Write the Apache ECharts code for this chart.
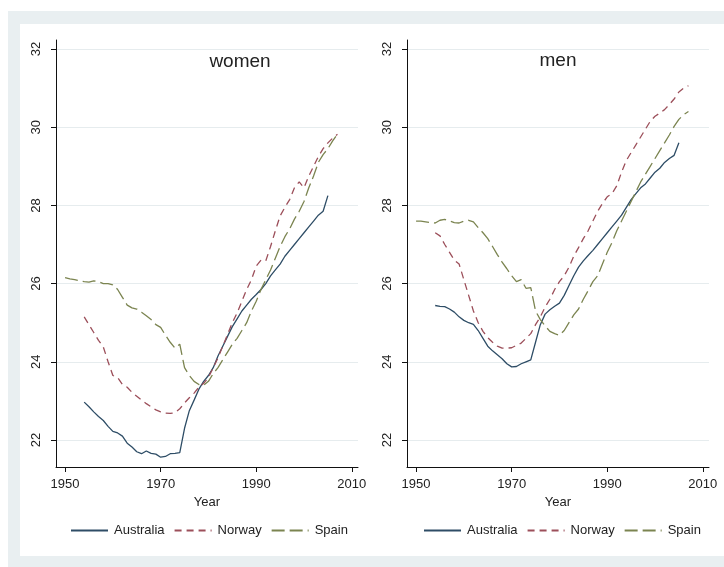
<!DOCTYPE html>
<html>
<head>
<meta charset="utf-8">
<script src="https://cdn.jsdelivr.net/npm/echarts@6/dist/echarts.min.js"></script>
<style>
html,body{margin:0;padding:0;background:#fff;}
#chart{width:724px;height:567px;}
</style>
</head>
<body>
<div id="chart"></div>
<script>
const years = [1950,1951,1952,1953,1954,1955,1956,1957,1958,1959,
  1960,1961,1962,1963,1964,1965,1966,1967,1968,1969,
  1970,1971,1972,1973,1974,1975,1976,1977,1978,1979,
  1980,1981,1982,1983,1984,1985,1986,1987,1988,1989,
  1990,1991,1992,1993,1994,1995,1996,1997,1998,1999,
  2000,2001,2002,2003,2004,2005,2006,2007];

const womenAustralia = [null,null,null,null,22.97,22.85,22.72,22.6,22.5,22.35,
  22.22,22.18,22.1,21.92,21.82,21.7,21.65,21.72,21.66,21.64,
  21.56,21.58,21.65,21.66,21.68,22.3,22.75,23.02,23.3,23.5,
  23.65,23.85,24.15,24.4,24.65,24.9,25.1,25.3,25.45,25.6,
  25.72,25.85,26.0,26.2,26.35,26.5,26.7,26.85,27.0,27.15,
  27.3,27.45,27.6,27.75,27.85,28.25,null,null];
const womenNorway = [null,null,null,null,25.15,24.95,24.75,24.55,24.38,24.0,
  23.65,23.6,23.42,23.35,23.22,23.12,23.02,22.93,22.85,22.77,
  22.72,22.69,22.68,22.7,22.8,22.95,23.08,23.2,23.35,23.45,
  23.6,23.85,24.1,24.4,24.7,25.0,25.25,25.55,25.85,26.1,
  26.45,26.6,26.58,26.95,27.35,27.73,27.95,28.15,28.45,28.6,
  28.45,28.75,29.0,29.25,29.45,29.6,29.72,29.82];
const womenSpain = [26.15,26.12,26.1,26.07,26.05,26.04,26.07,26.05,26.0,26.0,
  25.97,25.85,25.65,25.45,25.38,25.35,25.27,25.18,25.08,24.95,
  24.88,24.68,24.5,24.35,24.45,23.85,23.65,23.5,23.42,23.4,
  23.5,23.7,23.85,24.05,24.25,24.45,24.6,24.8,25.0,25.3,
  25.55,25.85,26.1,26.35,26.65,26.95,27.2,27.4,27.65,27.85,
  28.1,28.45,28.75,29.1,29.3,29.45,29.65,29.82];

const menAustralia = [null,null,null,null,25.44,25.42,25.41,25.35,25.27,25.15,
  25.06,25.0,24.96,24.8,24.6,24.4,24.28,24.18,24.08,23.95,
  23.87,23.88,23.95,24.0,24.05,24.5,24.95,25.22,25.33,25.42,
  25.5,25.7,25.95,26.2,26.42,26.58,26.72,26.85,27.0,27.15,
  27.3,27.45,27.6,27.75,27.95,28.15,28.3,28.45,28.55,28.7,
  28.85,28.95,29.1,29.2,29.28,29.6,null,null];
const menNorway = [null,null,null,null,27.3,27.22,27.0,26.8,26.6,26.5,
  26.1,25.7,25.3,25.0,24.78,24.62,24.5,24.4,24.35,24.35,
  24.36,24.42,24.48,24.6,24.72,24.95,25.15,25.4,25.6,25.85,
  26.05,26.2,26.42,26.7,26.92,27.15,27.35,27.6,27.85,28.05,
  28.22,28.3,28.5,28.85,29.15,29.35,29.55,29.75,29.95,30.15,
  30.28,30.36,30.45,30.58,30.72,30.9,31.0,31.06];
const menSpain = [27.6,27.6,27.58,27.56,27.55,27.62,27.64,27.6,27.56,27.55,
  27.6,27.62,27.58,27.43,27.3,27.15,26.95,26.74,26.55,26.38,
  26.2,26.05,26.1,25.88,25.9,25.3,25.08,24.92,24.78,24.72,
  24.68,24.8,25.0,25.2,25.35,25.6,25.82,26.05,26.2,26.5,
  26.8,27.05,27.35,27.6,27.85,28.1,28.35,28.6,28.8,29.0,
  29.2,29.4,29.6,29.8,30.02,30.2,30.32,30.4];

const countries = ['Australia','Norway','Spain'];
const panelTitles = ['women','men'];
const xTicks = [1950,1970,1990,2010];
const yTicks = [22,24,26,28,30,32];

const colors = {Australia:'#2e4d66', Norway:'#9c4f5a', Spain:'#7b8450'};
const dashes = {Australia:'solid', Norway:[7,5], Spain:[13,5]};

function pairs(vals){
  const out=[];
  for(let i=0;i<years.length;i++){ if(vals[i]!==null) out.push([years[i], vals[i]]); }
  return out;
}

const panels = [
  {Australia:womenAustralia, Norway:womenNorway, Spain:womenSpain},
  {Australia:menAustralia, Norway:menNorway, Spain:menSpain}
];

const FONT = 'Liberation Sans, Arial, sans-serif';
const gridLefts = [56, 407];

const grids = gridLefts.map(l => ({left:l, top:40, width:302, height:427}));
const xAxes = gridLefts.map((l,i) => ({
  type:'value', gridIndex:i, min:1948.1, max:2011.3,
  axisLine:{show:true, onZero:false, lineStyle:{color:'#111', width:1}},
  axisTick:{show:true, customValues:xTicks, length:5, lineStyle:{color:'#111'}},
  axisLabel:{customValues:xTicks, fontSize:13, color:'#222', margin:11, fontFamily:FONT,
    formatter: v => String(v)},
  splitLine:{show:false},
  name:'Year', nameLocation:'middle', nameGap:20,
  nameTextStyle:{fontSize:13, color:'#222', fontFamily:FONT}
}));
const yAxes = gridLefts.map((l,i) => ({
  type:'value', gridIndex:i, min:21.31, max:32.23,
  axisLine:{show:true, lineStyle:{color:'#111', width:1}},
  axisTick:{show:true, customValues:yTicks, length:5, lineStyle:{color:'#111'}},
  axisLabel:{customValues:yTicks, rotate:90, fontSize:13, color:'#222', margin:13, fontFamily:FONT,
    formatter: v => String(v)},
  splitLine:{show:true, lineStyle:{color:'#e6ecee', width:1}}
}));

const series = [];
panels.forEach((p,i) => {
  countries.forEach(c => {
    series.push({
      type:'line', name:c, xAxisIndex:i, yAxisIndex:i,
      data:pairs(p[c]), symbol:'none', showSymbol:false, smooth:false,
      lineStyle:{color:colors[c], width:1.3, type:dashes[c]},
      itemStyle:{color:colors[c]}
    });
  });
});

const legends = [65, 418].map(l => ({
  left:l, top:519, orient:'horizontal', data:countries,
  itemWidth:37, itemHeight:14, itemGap:9, selectedMode:false,
  itemStyle:{opacity:0, borderWidth:0},
  textStyle:{fontSize:13, color:'#222', fontFamily:FONT, padding:[0,0,0,1]}
}));

const chart = echarts.init(document.getElementById('chart'), null, {renderer:'canvas'});
chart.setOption({
  animation:false,
  backgroundColor:'#ffffff',
  graphic:[
    {type:'rect', z:-10, shape:{x:8, y:11, width:716, height:556}, style:{fill:'#e9eff1'}},
    {type:'rect', z:-9, shape:{x:20, y:24, width:704, height:532}, style:{fill:'#ffffff'}},
    {type:'text', x:240, y:62, style:{text:panelTitles[0], fontSize:19, fill:'#222', fontFamily:FONT, textAlign:'center', textVerticalAlign:'middle'}},
    {type:'text', x:558, y:61, style:{text:panelTitles[1], fontSize:19, fill:'#222', fontFamily:FONT, textAlign:'center', textVerticalAlign:'middle'}}
  ],
  grid:grids, xAxis:xAxes, yAxis:yAxes, legend:legends, series:series
});
</script>
</body>
</html>
